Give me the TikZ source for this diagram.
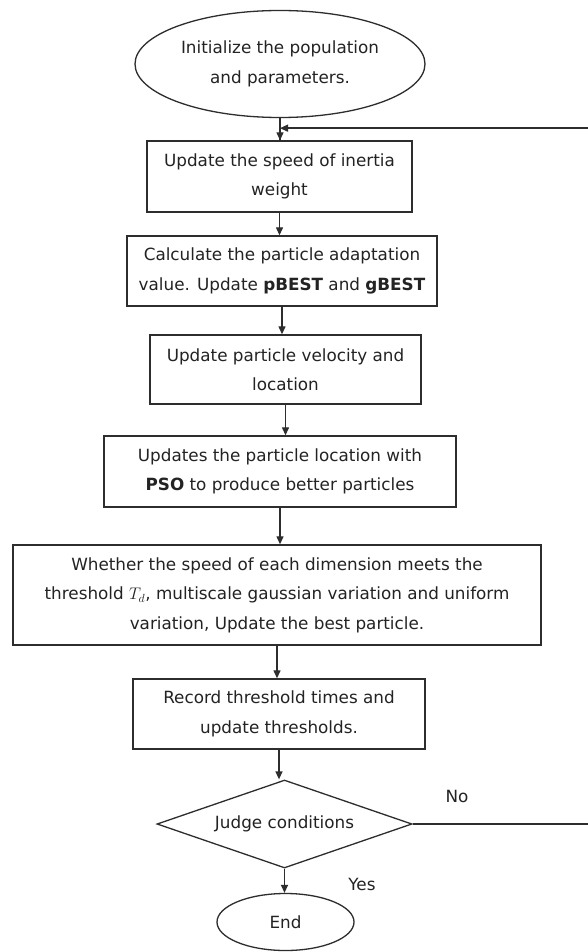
\RequirePackage{fix-cm}
\documentclass[tikz,border=0pt]{standalone}
\usepackage{fontspec}
\setmainfont{DejaVu Sans}
\usepackage{xcolor}
\usepackage{tikz}
\usetikzlibrary{positioning, shapes.geometric, arrows.meta, calc}
\definecolor{fcLine}{RGB}{45, 45, 45}
\definecolor{fcText}{RGB}{35, 35, 35}
\tikzset{
    base/.style={
        font=\fontsize{16.8}{29.5}\selectfont,
        align=center,
        text=fcText,
        inner sep=0pt
    },
    process/.style={
        base,
        rectangle,
        draw=fcLine,
        line width=1.4pt
    },
    terminal/.style={
        base,
        ellipse,
        draw=fcLine,
        line width=1.3pt
    },
    decision/.style={
        base,
        diamond,
        aspect=2.9,
        draw=fcLine,
        line width=1.3pt
    },
    flow/.style={
        -{Triangle[length=8pt, width=7pt]},
        line width=1.3pt,
        color=fcLine
    },
    label/.style={
        base
    }
}

\begin{document}
\begin{tikzpicture}[x=1pt, y=-1pt]
    \useasboundingbox[fill=white] (0,0) rectangle (587,952);

    % Start
    \node[terminal, inner xsep=-16pt, minimum width=290pt, minimum height=107pt] (init) at (280,64) {Initialize the population\\and parameters.};

    % Loop body
    \node[process, minimum width=265pt, minimum height=71pt] (inertia) at (279.5,176.5) {Update the speed of inertia\\weight};
    \node[process, minimum width=310pt, minimum height=70pt] (fitness) at (282,271) {Calculate the particle adaptation\\value. Update \textbf{pBEST} and \textbf{gBEST}};
    \node[process, minimum width=271pt, minimum height=69pt] (velocity) at (285.5,369.5) {Update particle velocity and\\location};
    \node[process, minimum width=352pt, minimum height=71pt] (pso) at (280,471.5) {Updates the particle location with\\\textbf{PSO} to produce better particles};
    \node[process, minimum width=528pt, minimum height=100pt] (mutate) at (277,595) {Whether the speed of each dimension meets the\\threshold $T_d$, multiscale gaussian variation and uniform\\variation, Update the best particle.};
    \node[process, minimum width=292pt, minimum height=70pt] (record) at (279,714) {Record threshold times and\\update thresholds.};

    % Test and end
    \node[decision, minimum width=255pt, minimum height=88pt] (judge) at (284.5,824) {Judge conditions};
    \node[terminal, minimum width=137pt, minimum height=57pt] (stop) at (285.5,922) {End};

    \node[label] (no) at (457,796) {No};
    \node[label] (yes) at (362,884) {Yes};

    % Connectors
    \coordinate (loopin) at ([yshift=-10pt]init.south);
    \coordinate (edge) at (588.5,0);
    \draw[line width=1.3pt, color=fcLine] (init.south) -- (init.south |- inertia.north);
    \draw[flow] (loopin) -- (loopin |- inertia.north);
    \draw[flow] (inertia.south) -- (inertia.south |- fitness.north);
    \draw[flow] (fitness.south) -- (fitness.south |- velocity.north);
    \draw[flow] (velocity.south) -- (velocity.south |- pso.north);
    \draw[flow] (pso.south) -- (pso.south |- mutate.north);
    \draw[flow] (mutate.south) -- (mutate.south |- record.north);
    \draw[flow] (record.south) -- (record.south |- judge.north);
    \draw[flow] (judge.south) -- (judge.south |- stop.north);
    \draw[flow] (judge.east) -- (judge.east -| edge) |- (loopin);
\end{tikzpicture}
\end{document}
